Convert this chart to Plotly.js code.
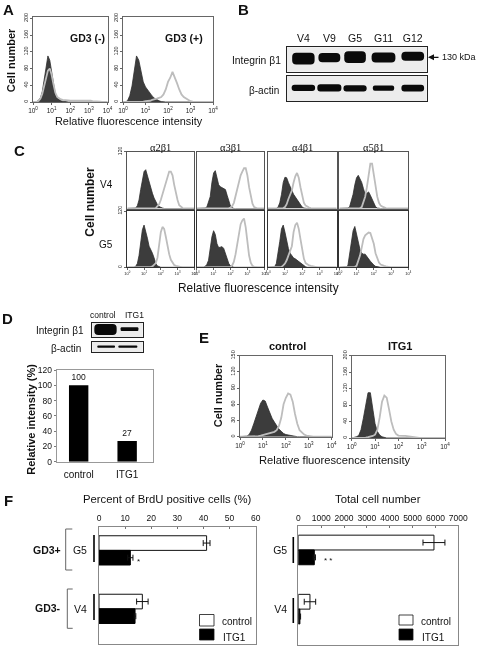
<!DOCTYPE html>
<html><head><meta charset="utf-8">
<script src="https://cdn.plot.ly/plotly-3.0.1.min.js"></script>
<style>html,body{margin:0;padding:0;background:#fff}#p{width:477px;height:646px;filter:blur(.4px)}</style>
</head><body><div id="p"></div>
<script>
// log10 fluorescence bins (0.1 decade) ------------------------------------
const logBins=[0,.1,.2,.3,.4,.5,.6,.7,.8,.9,1,1.1,1.2,1.3,1.4,1.5,1.6,1.7,1.8,1.9,2,2.1,2.2,2.3,2.4,2.5,2.6,2.7,2.8,2.9,3,3.1,3.2,3.3,3.4,3.5,3.6,3.7,3.8,3.9,4];
// Panel A
const aNegFill=[0,0,1,4,10,25,55,90,110,100,70,38,18,9,5,3,2,1,1];
const aNegLine=[0,0,0,3,8,20,38,60,75,80,65,42,22,12,8,6,5,5,4,4,3,3,3,4,4,4,4,3,3,3,3,3,2,2,1,1,1];
const aPosFill=[0,0,3,15,38,80,110,100,72,48,36,28,20,14,9,5,3,1];
const aPosLine=[0,0,0,0,0,0,1,1,1,1,2,2,3,5,6,8,10,12,18,30,48,58,72,60,45,30,18,12,8,4,2,1];
// Panel C
const a2V4Fill=[0,0,0,0,0,1,6,18,40,62,78,82,68,55,44,32,22,14,8,4,2,1];
const a2V4Line=[0,0,0,0,0,0,0,0,0,0,0,0,0,0,0,0,0,1,5,9,18,30,42,55,68,78,78,70,50,32,18,7,3,1];
const a2G5Fill=[0,0,0,0,0,2,8,25,50,80,90,78,62,45,38,30,20,8,3,1];
const a2G5Line=[0,0,0,0,0,0,0,0,0,0,0,0,0,1,1,2,5,9,20,50,75,86,82,65,45,28,16,9,5,3,2,1];
const a3V4Fill=[0,0,0,0,0,1,3,12,25,55,75,80,65,50,46,44,43,40,28,14,5,2];
const a3V4Line=[0,0,0,0,0,0,0,0,0,0,0,0,0,0,0,0,0,0,0,1,2,5,12,28,45,60,70,78,85,85,70,45,25,10,3,1];
const a3G5Fill=[0,0,0,0,0,2,6,15,40,65,78,70,50,42,43,44,40,30,18,8,3,1];
const a3G5Line=[0,0,0,0,0,0,0,0,0,0,0,0,0,0,0,0,0,0,0,0,1,4,12,28,52,78,92,100,104,85,55,25,10,3,1];
const a4V4Fill=[0,0,0,0,0,0,3,12,30,55,66,65,55,45,38,30,24,18,12,7,3,1];
const a4V4Line=[0,0,0,0,0,0,0,0,0,1,3,9,20,28,38,55,68,75,65,45,25,12,6,3,2,1];
const a4G5Fill=[0,0,0,0,1,8,28,55,82,90,75,55,40,30,24,20,18,15,12,10,5,2,1];
const a4G5Line=[0,0,0,0,0,0,0,0,1,4,8,15,25,35,45,75,90,95,82,60,35,18,9,6,4,3,2,1];
const a5V4Fill=[0,0,0,0,0,1,4,15,30,50,65,70,63,55,42,30,32,35,28,20,10,4,1];
const a5V4Line=[0,0,0,0,0,0,0,0,0,0,0,0,1,3,12,25,45,70,95,95,72,45,25,12,6,4,2,1];
const a5G5Fill=[0,0,0,0,1,4,28,58,78,87,70,50,38,30,28,28,24,18,13,8,5,2,1];
const a5G5Line=[0,0,0,0,0,0,0,0,0,1,3,12,25,42,60,68,72,74,73,62,50,30,18,10,6,4,3,2,1];
// Panel E
const eCtrlFill=[0,0,1,1,4,12,24,38,52,62,68,66,55,44,34,27,20,14,10,6,4,3,2,1];
const eCtrlLine=[0,0,0,0,0,0,0,0,1,2,3,4,5,6,7,9,12,20,35,60,72,80,78,65,42,24,12,7,4,2,1];
const eItgFill=[0,1,3,6,20,48,80,110,110,75,35,16,7,3,1];
const eItgLine=[0,0,0,0,0,1,1,2,3,5,8,20,50,88,103,98,70,40,20,10,6,5,5,5,4,3,2,1];
// Panel B (blot bands: centre and thickness on a blot scale of 0-100)
const laneLabels=["V4","V9","G5","G11","G12"];
const lanePos=[0,.95,1.89,2.93,4];
const b1Centre=[54,58,60,58,63];
const b1Thick=[48,38,48,41,37];
const b1Width=[.82,.80,.79,.87,.83];
const b2Centre=[52,52,50,51,51];
const b2Thick=[24,29,24,21,26];
const b2Width=[.86,.88,.85,.78,.83];
// Panel D
const dLabels=["control","ITG1"];
const dValues=[100,27];
const dBlot1Centre=[53,56];
const dBlot1Thick=[75,27];
const dBlot1Width=[.93,.74];
const dBlot2Centre=[53,53];
const dBlot2Thick=[22,22];
const dBlot2Width=[.82,.88];
// Panel F
const fCells=["G5","V4"];
const brduCtrl=[41.2,16.6];
const brduCtrlErr=[1.3,2.2];
const brduItg=[12,13.8];
const brduItgErr=[1,.3];
const totalCtrl=[5935,510];
const totalCtrlErr=[480,250];
const totalItg=[700,70];
const totalItgErr=[50,30];
// -------------------------------------------------------------------------
const W=477,H=646,FONT='"Liberation Sans",Arial,sans-serif';
const data=[],annotations=[],shapes=[];
const layout={width:W,height:H,margin:{l:0,r:0,t:0,b:0},paper_bgcolor:'#fff',plot_bgcolor:'#fff',
  showlegend:false,barmode:'overlay',font:{family:FONT,color:'#111'},annotations,shapes};
let axN=0;
function axes(l,t,r,b,xo,yo){axN++;const s=axN===1?'':axN;
  layout['xaxis'+s]=Object.assign({domain:[l/W,r/W],anchor:'y'+s,fixedrange:true,showgrid:false,zeroline:false},xo);
  layout['yaxis'+s]=Object.assign({domain:[1-b/H,1-t/H],anchor:'x'+s,fixedrange:true,showgrid:false,zeroline:false},yo);
  return ['x'+s,'y'+s];}
function text(x,y,t,size,o){annotations.push(Object.assign({xref:'paper',yref:'paper',x:x/W,y:1-y/H,text:t,showarrow:false,
  font:{size:size,color:'#111',family:FONT},xanchor:'center',yanchor:'middle'},o||{}));}
function line(x0,y0,x1,y1,color,width){shapes.push({type:'line',xref:'paper',yref:'paper',x0:x0/W,x1:x1/W,y0:1-y0/H,y1:1-y1/H,line:{color:color,width:width}});}
const decades=[1,10,100,1000,10000];
const decadeText=['10<sup>0</sup>','10<sup>1</sup>','10<sup>2</sup>','10<sup>3</sup>','10<sup>4</sup>'];
function pad(a){return logBins.map((_,i)=>i<a.length?a[i]:0);}
function hist(rect,fill,out,ymax,yticks,xFont,yFont,opts){opts=opts||{};
  const [xa,ya]=axes(rect[0],rect[1],rect[2],rect[3],
    {type:'log',range:[0,4],tickmode:'array',tickvals:opts.noX?[]:decades,ticktext:decadeText,ticks:opts.noX?'':'outside',ticklen:2,tickwidth:.7,tickcolor:'#222',
     tickfont:{size:xFont,color:'#222'},showline:true,linecolor:opts.frame||'#666',linewidth:opts.lw||1,mirror:true,ticklabelstandoff:0},
    {range:[0,ymax],tickmode:'array',tickvals:yticks,ticks:yticks.length?'outside':'',ticklen:2,tickwidth:.7,tickcolor:'#222',tickangle:-90,
     tickfont:{size:yFont,color:'#222'},showline:true,linecolor:opts.frame||'#666',linewidth:opts.lw||1,mirror:true});
  const x=logBins.map(v=>Math.pow(10,v));
  data.push({type:'scatter',mode:'lines',x:x,y:pad(fill),xaxis:xa,yaxis:ya,fill:'tozeroy',fillcolor:'#3c3c3c',line:{color:'#2e2e2e',width:.8},hoverinfo:'skip'});
  data.push({type:'scatter',mode:'lines',x:x,y:pad(out),xaxis:xa,yaxis:ya,line:{color:'#bdbdbd',width:1.8},hoverinfo:'skip'});
}
function blot(rect,pos,centre,thick,width,range,labels){
  const [xa,ya]=axes(rect[0],rect[1],rect[2],rect[3],
    {range:range,tickmode:'array',tickvals:labels?pos:[],ticktext:labels||[],side:'top',ticks:'',tickfont:{size:10.5,color:'#111'},showline:true,linecolor:'#222',linewidth:1,mirror:true},
    {range:[0,100],showticklabels:false,ticks:'',showline:true,linecolor:'#222',linewidth:1,mirror:true});
  shapes.push({type:'rect',xref:'paper',yref:'paper',x0:rect[0]/W,x1:rect[2]/W,y0:1-rect[3]/H,y1:1-rect[1]/H,fillcolor:'#ececec',line:{width:0},layer:'below'});
  data.push({type:'bar',x:pos,y:thick,base:centre.map((c,i)=>c-thick[i]/2),width:width,xaxis:xa,yaxis:ya,marker:{color:'#0a0a0a',line:{width:0},cornerradius:4},hoverinfo:'skip'});
}
// Panel A
hist([33,17,107.5,102],aNegFill,aNegLine,203,[0,40,80,120,160,200],6.5,5.5);
hist([123,17,213,102],aPosFill,aPosLine,203,[0,40,80,120,160,200],6.5,5.5);
text(1,9,'<b>A</b>',15,{xanchor:'left'});
text(87,38,'<b>GD3 (-)</b>',10.5);
text(183.5,38,'<b>GD3 (+)</b>',10.5);
text(129.3,121,'Relative fluorescence intensity',10.9);
text(11.7,60.5,'<b>Cell number</b>',11,{textangle:-90});
// Panel B
blot([286.7,47.3,426.7,71.7],lanePos,b1Centre,b1Thick,b1Width,[-.61,4.51],laneLabels);
blot([286.7,75.7,426.7,101],lanePos,b2Centre,b2Thick,b2Width,[-.61,4.51]);
text(236,9,'<b>B</b>',15,{xanchor:'left'});
text(283,61,'Integrin β1',10.3,{xanchor:'right'});
text(280.7,90,'β-actin',10,{xanchor:'right'});
text(440,57.3,'130 kDa',9,{xanchor:'left'});
annotations.push({xref:'paper',yref:'paper',axref:'pixel',ayref:'pixel',x:428/W,y:1-57.3/H,ax:12,ay:0,text:'',showarrow:true,arrowhead:2,arrowsize:1,arrowwidth:1.2,arrowcolor:'#111'});
// Panel C
const cols=[[127.3,194.3],[196.7,264.3],[267.7,336.7],[339.3,408.3]];
const cV4=[[a2V4Fill,a2V4Line],[a3V4Fill,a3V4Line],[a4V4Fill,a4V4Line],[a5V4Fill,a5V4Line]];
const cG5=[[a2G5Fill,a2G5Line],[a3G5Fill,a3G5Line],[a4G5Fill,a4G5Line],[a5G5Fill,a5G5Line]];
cols.forEach((c,i)=>{
  hist([c[0],151.7,c[1],208.5],cV4[i][0],cV4[i][1],120,i===0?[120]:[],4,5,{noX:true,frame:'#555'});
  hist([c[0],211,c[1],267.3],cG5[i][0],cG5[i][1],120,i===0?[0,120]:[],4,5,{frame:'#333'});
});
text(12,150,'<b>C</b>',15,{xanchor:'left'});
['α2β1','α3β1','α4β1','α5β1'].forEach((t,i)=>text((cols[i][0]+cols[i][1])/2,147.5,t,10.5,{font:{size:10.5,color:'#111',family:'"Liberation Serif",serif'}}));
text(115,185,'V4',10,{xanchor:'right'});
text(115,245,'G5',10,{xanchor:'right'});
text(90,201.7,'<b>Cell number</b>',12,{textangle:-90});
text(258.7,288,'Relative fluorescence intensity',11.9);
// Panel D
blot([92.3,322.7,142.7,337.3],[0,1],dBlot1Centre,dBlot1Thick,dBlot1Width,[-.549,1.549]);
blot([92.3,341.7,142.7,352.3],[0,1],dBlot2Centre,dBlot2Thick,dBlot2Width,[-.638,1.685]);
text(0,318,'<b>D</b>',15,{xanchor:'left'});
text(103,314.5,'control',8.5);
text(134.5,314.5,'ITG1',8.5);
text(86,330,'Integrin β1',10,{xanchor:'right'});
text(83,348.5,'β-actin',10,{xanchor:'right'});
const dAx=axes(56.7,370,152.7,461.7,
  {type:'category',range:[-.453,1.527],tickmode:'array',tickvals:dLabels,ticktext:dLabels,ticks:'',tickfont:{size:10,color:'#111'},showline:true,linecolor:'#999',linewidth:1,mirror:true,ticklabelstandoff:3},
  {range:[0,120],tickmode:'array',tickvals:[0,20,40,60,80,100,120],ticks:'outside',ticklen:2,tickwidth:.7,tickfont:{size:8.5,color:'#111'},showline:true,linecolor:'#999',linewidth:1,mirror:true,ticklabelstandoff:0});
data.push({type:'bar',x:dLabels,y:dValues,width:.4,xaxis:dAx[0],yaxis:dAx[1],marker:{color:'#000',line:{width:0}},text:dValues.map(String),textposition:'outside',textfont:{size:8.5,color:'#111'},cliponaxis:false,hoverinfo:'skip'});
text(30.7,419,'<b>Relative intensity (%)</b>',11,{textangle:-90});
// Panel E
hist([240,355.7,331.7,436.7],eCtrlFill,eCtrlLine,150,[0,30,60,90,120,150],6.5,5.5);
hist([351.7,355.7,445,438],eItgFill,eItgLine,200,[0,40,80,120,160,200],6.5,5.5);
text(197,337,'<b>E</b>',15,{xanchor:'left'});
text(287.3,346,'<b>control</b>',11);
text(400,346,'<b>ITG1</b>',11);
text(218.3,395,'<b>Cell number</b>',11,{textangle:-90});
text(335,460,'Relative fluorescence intensity',11.2);
// Panel F
function hbars(rect,max,dt,ctrl,ctrlErr,itg,itgErr,standoff){
  const [xa,ya]=axes(rect[0],rect[1],rect[2],rect[3],
    {range:[0,max],dtick:dt,tick0:0,side:'top',ticks:'inside',ticklen:2,tickwidth:.7,tickcolor:'#333',tickfont:{size:8.5,color:'#111'},showline:true,linecolor:'#888',linewidth:1,mirror:true,ticklabelstandoff:1},
    {type:'category',range:[1.606,-.405],tickmode:'array',tickvals:fCells,ticktext:fCells,ticks:'',tickfont:{size:10.5,color:'#111'},showline:true,linecolor:'#888',linewidth:1,mirror:true,ticklabelstandoff:standoff});
  const err=a=>({type:'data',array:a,visible:true,color:'#111',thickness:1,width:3,symmetric:true});
  data.push({type:'bar',orientation:'h',y:fCells,x:ctrl,width:.25,offset:-.25,xaxis:xa,yaxis:ya,marker:{color:'#fff',line:{color:'#111',width:1}},error_x:err(ctrlErr),hoverinfo:'skip'});
  data.push({type:'bar',orientation:'h',y:fCells,x:itg,width:.25,offset:0,xaxis:xa,yaxis:ya,marker:{color:'#000',line:{color:'#000',width:1}},error_x:err(itgErr),hoverinfo:'skip'});
}
hbars([99,526.7,255.7,644.3],60,10,brduCtrl,brduCtrlErr,brduItg,brduItgErr,9);
hbars([298.3,526,458.3,645],7000,1000,totalCtrl,totalCtrlErr,totalItg,totalItgErr,8);
text(2,500,'<b>F</b>',15,{xanchor:'left'});
text(167,499,'Percent of BrdU positive cells (%)',11.3);
text(377.7,498.5,'Total cell number',11.3);
text(63,550,'<b>GD3+</b>',10.5,{xanchor:'right'});
text(63,608,'<b>GD3-</b>',10.5,{xanchor:'right'});
text(138.3,561,'*',8);
text(327.5,560,'* *',8);
// group markers
line(94,535,94,562,'#000',1.6);line(94,594,94,620,'#000',1.6);
line(293.3,537,293.3,563,'#000',1.6);line(293.3,598,293.3,623,'#000',1.6);
[[65.7,72.3,529,570],[67.3,72.7,589,628.3]].forEach(b=>{
  line(b[1],b[2],b[0],b[2],'#666',1);line(b[0],b[2],b[0],b[3],'#666',1);line(b[0],b[3],b[1],b[3],'#666',1);});
// manual legends
function swatch(x0,x1,y0,y1,fill){shapes.push({type:'rect',xref:'paper',yref:'paper',x0:x0/W,x1:x1/W,y0:1-y1/H,y1:1-y0/H,fillcolor:fill,line:{color:'#111',width:.8}});}
swatch(199.5,214,614.5,626,'#fff');swatch(199.5,214,629,640,'#000');
text(220,621,'control',10,{xanchor:'left'});text(221,637,'ITG1',10,{xanchor:'left'});
swatch(399,413,615,625,'#fff');swatch(399,413,629,640,'#000');
text(419,621,'control',10,{xanchor:'left'});text(420,637,'ITG1',10,{xanchor:'left'});
Plotly.newPlot('p',data,layout,{staticPlot:true,displayModeBar:false});
</script></body></html>
